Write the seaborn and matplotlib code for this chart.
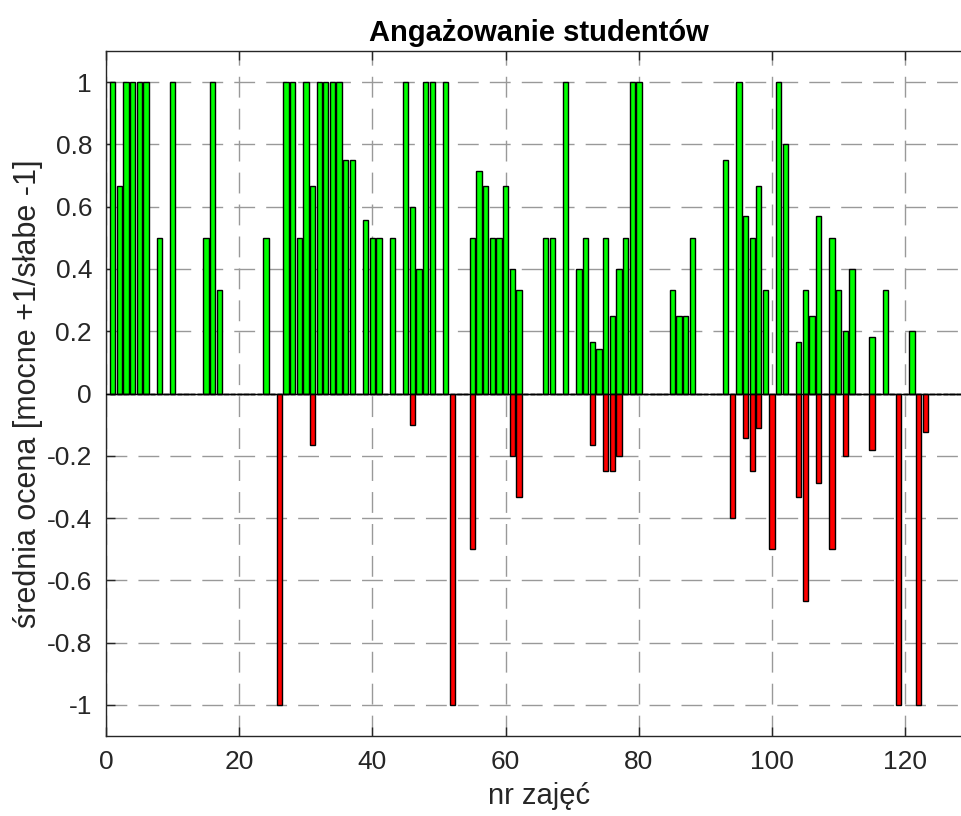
import numpy as np
import pandas as pd
import matplotlib
matplotlib.use("Agg")
import matplotlib.pyplot as plt
import seaborn as sns

# --- Data ---
n_lessons = 129
pos_lessons = [1, 2, 3, 4, 5, 6, 8, 10, 15, 16, 17, 24, 27, 28, 29, 30, 31, 32, 33,
               34, 35, 36, 37, 39, 40, 41, 43, 45, 46, 47, 48, 49, 51, 55, 56, 57,
               58, 59, 60, 61, 62, 66, 67, 69, 71, 72, 73, 74, 75, 76, 77, 78, 79,
               80, 85, 86, 87, 88, 93, 95, 96, 97, 98, 99, 101, 102, 104, 105, 106,
               107, 109, 110, 111, 112, 115, 117, 121]
pos_values = [1, 0.667, 1, 1, 1, 1, 0.5, 1, 0.5, 1, 0.333, 0.5, 1, 1, 0.5, 1, 0.667,
              1, 1, 1, 1, 0.75, 0.75, 0.556, 0.5, 0.5, 0.5, 1, 0.6, 0.4, 1, 1, 1,
              0.5, 0.714, 0.667, 0.5, 0.5, 0.667, 0.4, 0.333, 0.5, 0.5, 1, 0.4, 0.5,
              0.167, 0.143, 0.5, 0.25, 0.4, 0.5, 1, 1, 0.333, 0.25, 0.25, 0.5, 0.75,
              1, 0.571, 0.5, 0.667, 0.333, 1, 0.8, 0.167, 0.333, 0.25, 0.571, 0.5,
              0.333, 0.2, 0.4, 0.182, 0.333, 0.2]
neg_lessons = [26, 31, 46, 52, 55, 61, 62, 73, 75, 76, 77, 94, 96, 97, 98, 100, 104,
               105, 107, 109, 111, 115, 119, 122, 123]
neg_values = [-1, -0.167, -0.1, -1, -0.5, -0.2, -0.333, -0.167, -0.25, -0.25, -0.2,
              -0.4, -0.143, -0.25, -0.111, -0.5, -0.333, -0.667, -0.286, -0.5, -0.2,
              -0.182, -1, -1, -0.125]

# full series per lesson (zeros where nothing was recorded)
lessons = np.arange(1, n_lessons + 1)
pos_full = pd.Series(0.0, index=lessons)
pos_full[pos_lessons] = pos_values
neg_full = pd.Series(0.0, index=lessons)
neg_full[neg_lessons] = neg_values
df_pos = pd.DataFrame({"nr": lessons, "ocena": pos_full.values})
df_neg = pd.DataFrame({"nr": lessons, "ocena": neg_full.values})

# --- Style ---
sns.set_style("white")
plt.rcParams["font.family"] = ["Liberation Sans", "DejaVu Sans"]
text_col = "#262626"

fig = plt.figure(figsize=(9.62, 8.16), dpi=100)
ax = fig.add_axes([106 / 962, 80 / 816, 866 / 962, 685 / 816])

sns.barplot(data=df_pos, x="nr", y="ocena", native_scale=True, orient="x",
            color="#00ff00", edgecolor="black", linewidth=1.0, saturation=1,
            errorbar=None, width=0.8, ax=ax)
sns.barplot(data=df_neg, x="nr", y="ocena", native_scale=True, orient="x",
            color="#ff0000", edgecolor="black", linewidth=1.0, saturation=1,
            errorbar=None, width=0.8, ax=ax)
ax.axhline(0, color="black", lw=1.0, zorder=3)

ax.set_xlim(0, 130)
ax.set_ylim(-1.1, 1.1)
ax.set_xticks(np.arange(0, 121, 20))
ax.set_xticklabels([str(v) for v in range(0, 121, 20)])
yt = np.round(np.arange(-1, 1.01, 0.2), 1)
ax.set_yticks(yt)
ax.set_yticklabels([("%g" % v) if abs(v) > 1e-9 else "0" for v in yt])

ax.set_axisbelow(True)
ax.grid(True, color="#999999", lw=1.0, linestyle=(0, (15, 8)))
for s in ax.spines.values():
    s.set_color(text_col)
    s.set_linewidth(1.0)
    s.set_visible(True)
ax.tick_params(direction="in", length=6.5, width=1.0, color=text_col,
               labelcolor=text_col, labelsize=19, pad=10,
               top=True, right=True, bottom=True, left=True)

ax.set_title("Angażowanie studentów", fontsize=21, fontweight="bold",
             color="black", pad=7)
ax.set_xlabel("nr zajęć", fontsize=21, color=text_col, labelpad=6)
ax.set_ylabel("średnia ocena [mocne +1/słabe -1]", fontsize=22, color=text_col,
              labelpad=3)

fig.savefig("out.png", dpi=100)
